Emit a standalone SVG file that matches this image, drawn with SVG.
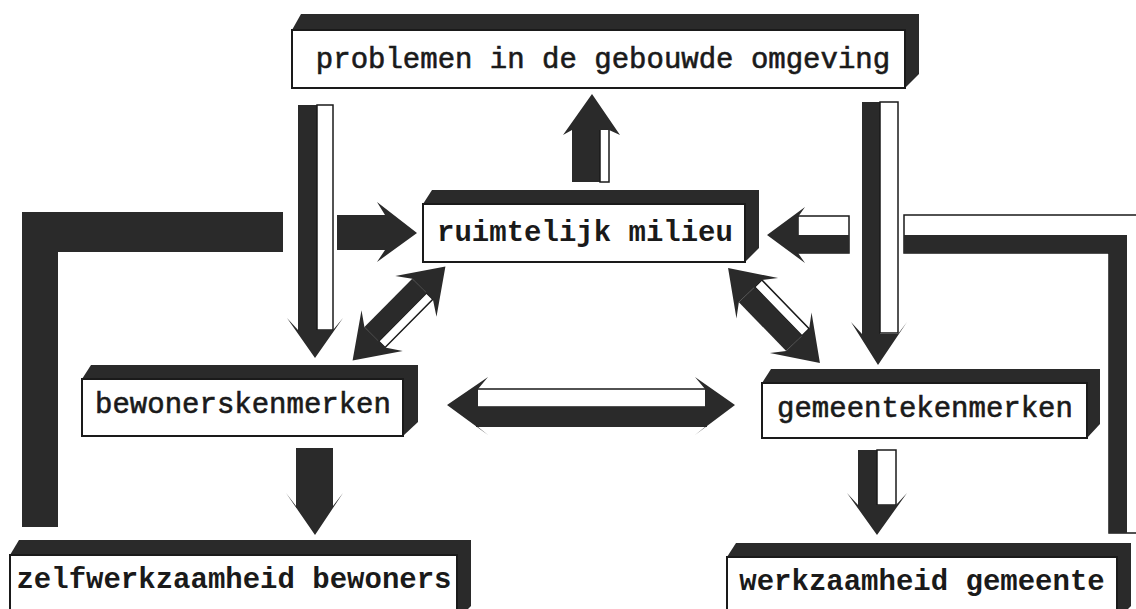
<svg xmlns="http://www.w3.org/2000/svg" width="1136" height="609" viewBox="0 0 1136 609">
<style>
.dk{fill:#2a2a2a}
.wt{fill:#fff;stroke:#1a1a1a;stroke-width:1.5}
.sh{fill:#2a2a2a}
.fr{fill:#fff;stroke:#1a1a1a;stroke-width:2}
.tx{font-family:"Liberation Mono","DejaVu Sans Mono",monospace;font-size:29px;fill:#1a1a1a;text-anchor:middle}
.b{font-weight:bold}
.n{stroke:#1a1a1a;stroke-width:0.6}
</style>
<rect width="1136" height="609" fill="#fff"/>
<g id="connectors">
  <!-- top box -> bewonerskenmerken -->
  <g id="c1">
    <rect class="dk" x="298" y="105" width="19" height="228"/>
    <rect class="wt" x="317" y="105" width="16" height="225"/>
    <polygon class="dk" points="287,318 298,330 333,330 343,318 315,358"/>
  </g>
  <!-- top box -> gemeentekenmerken -->
  <g id="c2">
    <rect class="dk" x="862" y="102" width="18" height="233"/>
    <rect class="wt" x="880" y="102" width="18" height="231"/>
    <polygon class="dk" points="851,322 862,334 898,334 907,322 878,365"/>
  </g>
  <!-- ruimtelijk -> top box -->
  <g id="c3">
    <rect class="dk" x="572" y="128" width="28" height="54"/>
    <rect class="wt" x="600" y="129" width="9" height="53"/>
    <polygon class="dk" points="563,135 572,130 609,130 620,135 592,94"/>
  </g>
  <!-- left feedback -->
  <g id="c4">
    <polygon class="dk" points="22,212 283,212 283,252 58,252 58,527 22,527"/>
    <rect class="dk" x="337" y="215" width="48" height="35"/>
    <polygon class="dk" points="377,202 385,215 385,250 377,262 417,233"/>
  </g>
  <!-- right feedback -->
  <g id="c5">
    <polygon class="wt" points="904,215 1146,215 1146,533 1109,533 1109,253 904,253"/>
    <polygon class="dk" points="904,235 1127,235 1127,533 1109,533 1109,253 904,253"/>
    <rect class="wt" x="798" y="216" width="51" height="37"/>
    <rect class="dk" x="798" y="235" width="51" height="18"/>
    <polygon class="dk" points="767,235 805,207 798,217 798,253 805,263"/>
  </g>
  <!-- bewonerskenmerken <-> gemeentekenmerken -->
  <g id="c6">
    <rect class="wt" x="476" y="389" width="231" height="18"/>
    <rect class="dk" x="476" y="407" width="231" height="20"/>
    <polygon class="dk" points="447,405 488,377 478,389 478,427 488,435"/>
    <polygon class="dk" points="735,405 695,377 705,389 705,427 695,435"/>
  </g>
  <!-- ruimtelijk <-> bewonerskenmerken -->
  <g id="c7" transform="translate(399,313.5) rotate(-45.3)">
    <rect class="wt" x="-34" y="5" width="68" height="9"/>
    <rect class="dk" x="-34" y="-15" width="68" height="20"/>
    <polygon class="dk" points="66,0 24,-29 34,-15 34,14 24,29"/>
    <polygon class="dk" points="-66,0 -24,-29 -34,-15 -34,14 -24,29"/>
  </g>
  <!-- ruimtelijk <-> gemeentekenmerken -->
  <g id="c8" transform="translate(774,315.5) rotate(45.9)">
    <rect class="wt" x="-34" y="-16" width="68" height="10"/>
    <rect class="dk" x="-34" y="-6" width="68" height="22"/>
    <polygon class="dk" points="66,0 24,-29 34,-16 34,16 24,29"/>
    <polygon class="dk" points="-66,0 -24,-29 -34,-16 -34,16 -24,29"/>
  </g>
  <!-- bewonerskenmerken -> zelfwerkzaamheid -->
  <g id="c9">
    <rect class="dk" x="296" y="448" width="37" height="60"/>
    <polygon class="dk" points="286,493 296,506 333,506 343,493 315,535"/>
  </g>
  <!-- gemeentekenmerken -> werkzaamheid -->
  <g id="c10">
    <rect class="dk" x="858" y="450" width="19" height="57"/>
    <rect class="wt" x="877" y="450" width="19" height="55"/>
    <polygon class="dk" points="847,493 858,505 896,505 907,493 877,535"/>
  </g>
</g>
<g id="n-problemen">
  <polygon class="sh" points="292,30 301,14 919,14 919,74 905,88"/>
  <rect class="fr" x="292" y="30" width="613" height="58"/>
  <text class="tx n" x="603" y="68">problemen in de gebouwde omgeving</text>
</g>
<g id="n-ruimtelijk">
  <polygon class="sh" points="423,204 432,190 759,190 759,248 745,262"/>
  <rect class="fr" x="423" y="204" width="322" height="58"/>
  <text class="tx b" x="585" y="241">ruimtelijk milieu</text>
</g>
<g id="n-bewoners">
  <polygon class="sh" points="82,379 91,365 418,365 418,422 403,436"/>
  <rect class="fr" x="82" y="379" width="321" height="57"/>
  <text class="tx n" x="243" y="413">bewonerskenmerken</text>
</g>
<g id="n-gemeente">
  <polygon class="sh" points="762,383 771,369 1100,369 1100,424 1087,438"/>
  <rect class="fr" x="762" y="383" width="325" height="55"/>
  <text class="tx n" x="925" y="417">gemeentekenmerken</text>
</g>
<g id="n-zelfwerkzaamheid">
  <polygon class="sh" points="10,555 19,540 471,540 471,606 457,620"/>
  <rect class="fr" x="10" y="555" width="447" height="65"/>
  <text class="tx b" x="234" y="588">zelfwerkzaamheid bewoners</text>
</g>
<g id="n-werkzaamheid">
  <polygon class="sh" points="727,557 736,543 1131,543 1131,606 1117,620"/>
  <rect class="fr" x="727" y="557" width="390" height="63"/>
  <text class="tx b" x="922" y="590">werkzaamheid gemeente</text>
</g>
</svg>
